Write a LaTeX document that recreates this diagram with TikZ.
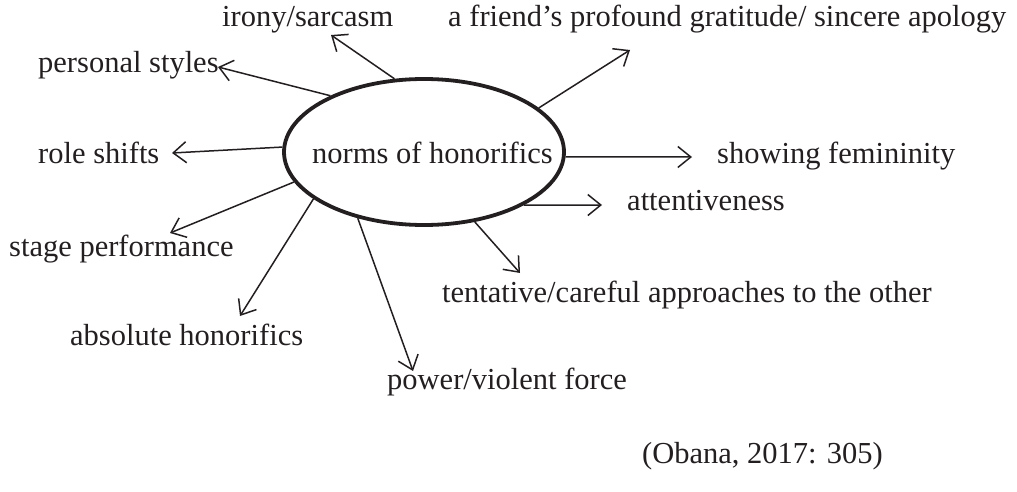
\documentclass[tikz,border=0pt]{standalone}
\usepackage{fontspec}
\setmainfont{Liberation Serif}
\usepackage{tikz}
\usetikzlibrary{shapes.geometric,arrows.meta}
\definecolor{ink}{HTML}{231F20}
\tikzset{
  hub/.style={ellipse,draw=ink,line width=3.8pt,minimum width=280pt,minimum height=146pt,inner sep=0pt},
  lbl/.style={anchor=base west,inner sep=0pt,text=ink,font=\fontsize{30.5}{36}\selectfont},
  link/.style={draw=ink,line width=1.5pt,-{Straight Barb[length=13pt,width=21pt]}},
}

\begin{document}
\begin{tikzpicture}[x=1pt,y=-1pt]
\useasboundingbox (0,0) rectangle (1017,492);
\node[hub] (norms) at (424,152) {};
\node[lbl] (norms-txt) at (312,163) {norms of honorifics};
\foreach \nm/\x/\y/\txt in {irony/222/27/irony\slash sarcasm,
  friend/448/27/{a friend's profound gratitude/ sincere apology},
  personal/38/73/personal styles, role/38/163/role shifts,
  stage/9/256/stage performance, absolute/70/345/absolute honorifics,
  power/387/389/power\slash violent force,
  tentative/442/302/tentative\slash careful approaches to the other,
  attentive/627/210/attentiveness, feminine/717/163/showing femininity,
  source/642/463/{(Obana, 2017: 305)}}
{
  \node[lbl] (\nm) at (\x,\y) {\txt};
}
% arrow tips
\coordinate (tip-irony) at (331,35);
\coordinate (tip-friend) at (630,50);
\coordinate (tip-personal) at (218,67);
\coordinate (tip-role) at (172,153);
\coordinate (tip-stage) at (170,233);
\coordinate (tip-absolute) at (240,316);
\coordinate (tip-power) at (413,371);
\coordinate (tip-tentative) at (520,273);
\coordinate (tip-attentive) at (602,205);
\coordinate (tip-feminine) at (692,157);
\foreach \ang/\tip in {112/irony, 21/friend, 149/personal, 178/role, 193/stage,
  203/absolute, 225/power, 306/tentative, 332/attentive, 358/feminine}
{
  \draw[link] (norms.\ang) -- (tip-\tip);
}
\end{tikzpicture}
\end{document}
